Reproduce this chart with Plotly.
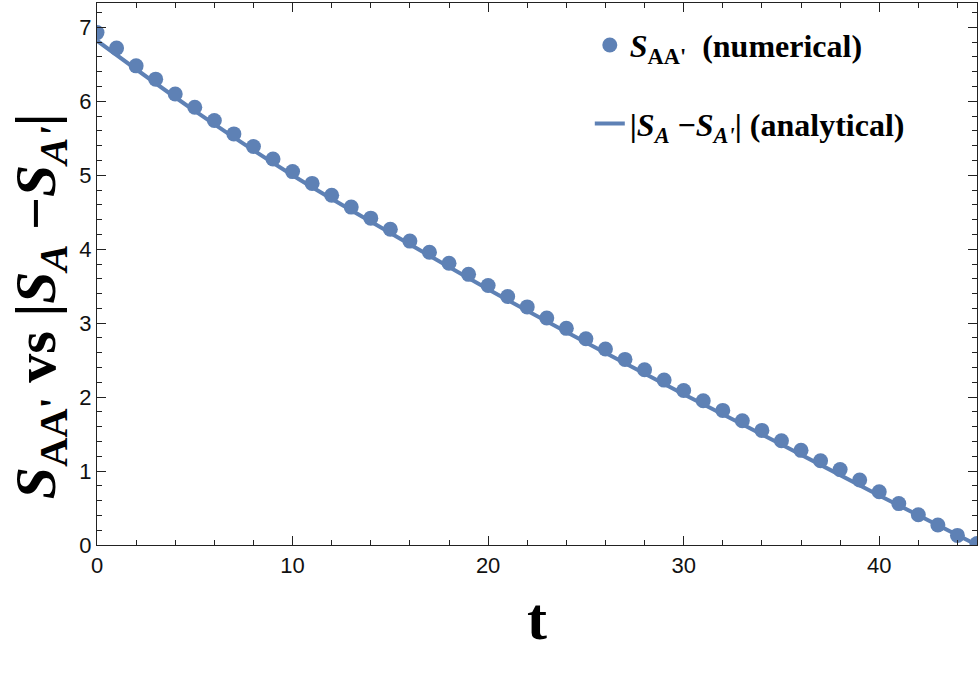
import plotly.graph_objects as go

# numerical data points
t_num = list(range(0, 46))
s_num = [6.93, 6.72, 6.48, 6.30, 6.10, 5.92, 5.74, 5.56, 5.39, 5.22,
         5.05, 4.89, 4.73, 4.57, 4.42, 4.27, 4.11, 3.96, 3.81, 3.66,
         3.51, 3.36, 3.22, 3.07, 2.93, 2.79, 2.65, 2.51, 2.37, 2.23,
         2.09, 1.95, 1.82, 1.68, 1.55, 1.41, 1.28, 1.14, 1.02, 0.88,
         0.72, 0.56, 0.41, 0.27, 0.13, 0.02]

# analytical curve
t_ana = [0, 5, 10, 15, 20, 25, 30, 35, 40, 45]
s_ana = [6.82, 5.87, 5.00, 4.22, 3.46, 2.74, 2.04, 1.36, 0.67, 0.0]

x_ticks = [0, 10, 20, 30, 40]
y_ticks = [0, 1, 2, 3, 4, 5, 6, 7]

y_title = "<b><i>S</i><sub>AA'</sub> vs |<i>S</i><sub><i>A</i></sub> −<i>S</i><sub><i>A'</i></sub>|</b>"

blue = "#5E81B5"
serif = "Liberation Serif"

fig = go.Figure()
fig.add_trace(go.Scatter(
    x=t_ana, y=s_ana, mode="lines", line=dict(color=blue, width=4, shape="spline"),
    name="<b>|<i>S</i><sub><i>A</i></sub> −<i>S</i><sub><i>A'</i></sub>| (analytical)</b>",
    legendgroup="b", legendrank=2))
fig.add_trace(go.Scatter(
    x=t_num, y=s_num, mode="markers", marker=dict(color=blue, size=15),
    name="<b><i>S</i><sub>AA'</sub>  (numerical)</b>",
    legendgroup="a", legendrank=1))

axis_common = dict(
    showline=True, linecolor="#222", linewidth=1.2, mirror="allticks",
    ticks="inside", ticklen=9, tickwidth=1, tickcolor="#222",
    showgrid=False, zeroline=False, automargin=False,
    tickfont=dict(family="Liberation Sans", size=22, color="#111"),
)

fig.update_xaxes(range=[0, 45], tickvals=x_ticks,
                 minor=dict(dtick=2, ticks="inside", ticklen=5, tickcolor="#222"),
                 title=dict(text="<b>t</b>", font=dict(family=serif, size=60, color="#000"), standoff=20),
                 **axis_common)
fig.update_yaxes(range=[0, 7.33], tickvals=y_ticks,
                 minor=dict(dtick=0.2, ticks="inside", ticklen=5, tickcolor="#222"),
                 **axis_common)

fig.add_annotation(text=y_title, xref="paper", yref="paper", x=-0.065, y=0.44,
                   xanchor="center", yanchor="middle", textangle=-90, showarrow=False,
                   font=dict(family=serif, size=58, color="#000"))

fig.update_layout(
    width=979, height=673,
    margin=dict(l=97, r=2, t=3, b=128),
    plot_bgcolor="white", paper_bgcolor="white",
    legend=dict(x=0.56, y=0.973, xanchor="left", yanchor="top",
                font=dict(family=serif, size=32, color="#000"),
                tracegroupgap=34, traceorder="grouped", bgcolor="rgba(0,0,0,0)"),
)

fig.write_html("out.html", config={"displayModeBar": False},
               post_script="document.body.style.margin='0';")
